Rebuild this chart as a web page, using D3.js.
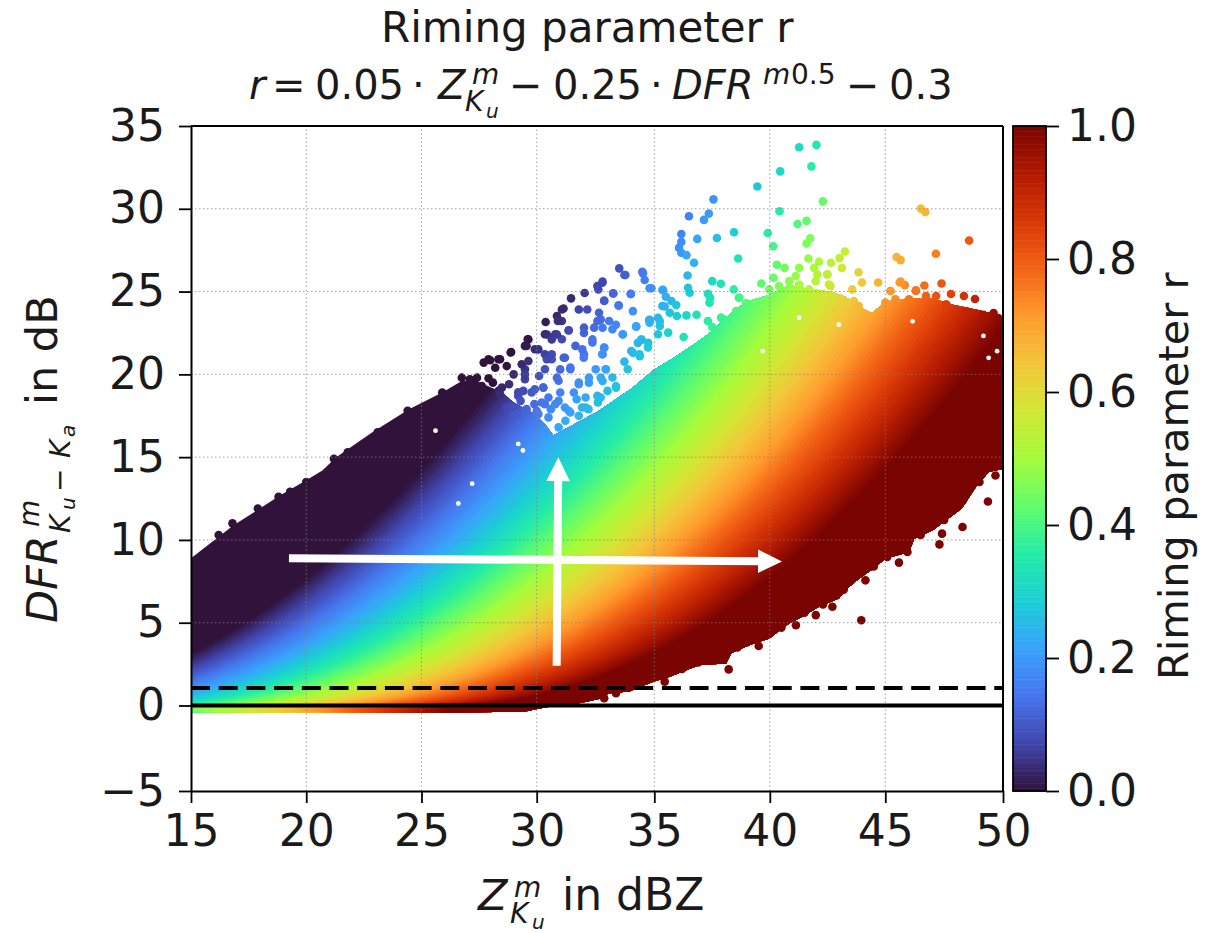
<!DOCTYPE html>
<html>
<head>
<meta charset="utf-8">
<script src="https://cdn.jsdelivr.net/npm/d3@7"></script>
<style>
  html, body { margin: 0; background: #fff; }
  text { font-family: "DejaVu Sans", sans-serif; fill: #1a1a1a; }
</style>
</head>
<body>
<div id="chart"></div>
<script>
// tick labels
const xTicks = [15, 20, 25, 30, 35, 40, 45, 50];
const yTicks = [-5, 0, 5, 10, 15, 20, 25, 30, 35];
const rTicks = [0, 0.2, 0.4, 0.6, 0.8, 1];

// colormap stops (turbo)
const turboStops = ['#30123b', '#4145ab', '#4675ed', '#39a2fc', '#1bcfd4', '#24eca6', '#61fc6c', '#a4fc3b',
  '#d1e834', '#f3c63a', '#fe9b2d', '#f36315', '#d93806', '#b11901', '#7a0402'];

// outline of the dense part of the cloud, [Z, DFR]
const upperEdge = [[15, 8.9], [16.83, 10.87], [18.86, 12.68], [20, 13.6], [20.7, 14.2], [21.3, 15], [22.87, 16.5],
  [24.46, 17.9], [25.9, 18.9], [26.75, 19.6], [27.4, 19.6], [28.5, 18.9], [29, 18.3], [29.9, 17.6], [30.4, 16.9],
  [30.71, 16.3], [32.65, 17.8], [34.09, 19.2], [35, 20.3], [35.95, 21.1], [36.8, 21.9], [37.5, 22.6], [38.4, 23.8],
  [39, 24.4], [39.98, 24.8], [40.84, 25.4], [41.56, 25.2], [42.56, 25], [43.14, 24.8], [44, 24], [44.43, 23.7],
  [45, 24.4], [46, 24.6], [47, 24.6], [47.88, 24.2], [48.89, 23.9], [49.46, 23.7], [50, 23.2]];
const lowerEdge = [[50, 14.29], [49.4, 14.1], [48.89, 13.29], [48.24, 11.88], [47.02, 10.58], [46.23, 10.07],
  [46.01, 9.27], [45, 8.87], [44.5, 8.27], [43.86, 7.66], [43.43, 7.16], [42.99, 6.46], [42.13, 5.96], [41.41, 5.36],
  [40.84, 4.95], [39.98, 4.05], [39.12, 3.65], [38.33, 3.15], [38.11, 2.54], [36.96, 2.44], [35.67, 1.74],
  [34.95, 1.44], [33.94, 0.84], [33.08, 0.74], [32.65, 0.4], [31.5, 0.05], [30.4, -0.1], [29.5, -0.35], [26, -0.42],
  [20.3, -0.4], [15, -0.4]];

// single points outside the dense part, [Z, DFR]
const loosePoints = [[41.27, 33.72], [42.02, 33.86], [41.8, 32.56], [40.45, 32.26], [39.46, 31.35], [42.3, 30.45],
  [37.56, 30.57], [40.42, 29.85], [46.51, 30.01], [46.7, 29.81], [36.5, 29.55], [37.36, 29.71], [37.15, 29.33],
  [41.2, 29.08], [41.59, 29.27], [48.56, 28.08], [38.45, 28.58], [37.71, 28.24], [36.86, 28.18], [36.17, 28.48],
  [36.17, 28], [36.07, 27.64], [36.17, 27.34], [36.39, 27.2], [36.72, 26.74], [39.91, 28.54], [40.15, 27.74],
  [41.75, 28.22], [41.59, 27.9], [38.63, 27], [47.15, 27.28], [45.48, 27.08], [45.65, 26.9], [43.25, 27.42],
  [43.02, 27.02], [41.67, 27], [40.31, 26.62], [40.64, 26.43], [41.27, 26.43], [42.13, 26.8], [42.65, 26.74],
  [43.12, 26.43], [41.92, 26.43], [42.06, 26.03], [42.49, 26.03], [43.84, 26.17], [33.51, 26.4], [33.77, 26],
  [34.49, 26.2], [34.59, 25.7], [34.8, 25.2], [32.79, 25.53], [33.25, 24.89], [34, 24.85], [32.87, 24.43],
  [33.48, 24.17], [36.44, 25.97], [36.46, 25.23], [36.53, 24.93], [37.51, 25.63], [37.88, 25.47], [38.44, 25.13],
  [39.63, 25.49], [40.16, 25.83], [42.56, 25.43], [43.99, 25.55], [43.57, 25.13], [44.69, 25.55], [45.61, 25.55],
  [45.83, 25.39], [46.66, 25.37], [47.39, 25.49], [46.3, 25.03], [47.79, 24.85], [48.34, 24.73], [48.81, 24.55],
  [45.22, 25.03], [37.32, 24.87], [37.42, 24.63], [37.39, 24.33], [38.66, 24.63], [38.97, 24.29], [35.35, 25.09],
  [35.5, 24.69], [35.74, 24.43], [35.95, 24.19], [35.35, 24.13], [34.09, 23.82], [35.67, 23.72], [35.98, 23.52],
  [36.39, 23.56], [36.83, 23.6], [34.78, 23.28], [35.16, 23.42], [34.23, 22.88], [35.24, 22.92], [35.6, 22.52],
  [35.16, 22.42], [34.8, 23.12], [37.32, 23.22], [37.51, 22.86], [37.97, 23.32], [36.27, 22.26], [34.45, 22.1],
  [34.73, 21.62], [34.3, 21.9], [34.02, 21.41], [34.37, 21.21], [33.73, 20.77], [33.87, 20.31], [33.08, 23.22],
  [32.72, 23.32], [33.22, 22.72], [33.66, 22.42], [32.87, 21.62], [32.79, 21.21], [32.94, 20.31], [33.22, 19.81],
  [33.37, 19.2], [32.72, 19.81], [32.72, 18.6], [32.58, 25.33], [32.04, 24.91], [31.46, 24.59], [31.79, 23.92],
  [32.15, 23.92], [31.07, 23.92], [30.86, 23.52], [30.38, 23.16], [31.07, 23.22], [32.01, 22.82], [32.44, 22.82],
  [31.36, 22.66], [30.35, 22.42], [30.79, 22.42], [31.07, 22.12], [29.61, 22.12], [29.49, 21.72], [29.92, 21.52],
  [32.37, 21.92], [31.65, 21.72], [32.01, 21.21], [31.15, 21], [30.35, 21.21], [30.64, 20.91], [28.87, 21.32],
  [28.34, 20.91], [27.91, 20.91], [27.7, 20.71], [30.35, 20.31], [31.43, 20.31], [30.93, 19.61], [29.49, 20.31],
  [29.49, 19.71], [31.79, 19.41], [30.28, 19.21], [29.2, 18.91], [29.78, 18.91], [28.34, 19], [28.7, 18],
  [29.49, 17.8], [30.93, 18.4], [31.43, 17.7], [32.08, 18.6], [32.22, 19.5], [30.35, 18.2], [29.06, 17.6], [30, 17.8],
  [31.93, 18], [49.68, 13.89], [49.36, 12.32], [48.28, 10.78], [47.41, 10.38], [47.3, 9.73], [43.96, 5.15],
  [45.58, 8.63], [45.08, 8.97], [45.94, 9.27], [44.14, 7.56], [42.71, 5.96], [41.99, 5.46], [41.13, 4.85],
  [39.52, 3.59], [38.22, 2.18], [35.45, 1.44], [33.37, 0.74], [32.87, 0.44]];

// second pass over the busy parts of the upper edge
const busyPoints = [[32.8, 25.6], [32.62, 25.13], [33.26, 24.88], [34, 24.86], [32.87, 24.46], [33.49, 24.14],
  [30.9, 23.22], [31.14, 23.98], [32.65, 23.72], [32.58, 23.22], [32.01, 22.5], [32.8, 22.82], [33.37, 23],
  [33.66, 22.41], [32.37, 22.11], [31.36, 22.65], [30.86, 22.41], [30.43, 22.41], [30.64, 22.11], [29.64, 22.11],
  [29.56, 21.71], [30.07, 21.51], [32.87, 21.61], [32.8, 21.21], [31.94, 21.51], [32, 21], [31.2, 21],
  [30.64, 21.21], [30.43, 20.91], [28.89, 21.35], [28.41, 20.91], [27.98, 20.85], [28.2, 20.4], [28.7, 20.5],
  [29.35, 20.61], [29.64, 20.81], [29.49, 20], [30.86, 19.8], [31.43, 20.41], [32.51, 20.31], [32.94, 20.31],
  [32.22, 19.8], [32.8, 19.6], [31.79, 19.5], [33.37, 19.3], [32.58, 18.7], [33.01, 19], [31.58, 18.9], [32.08, 18],
  [31.36, 17.8], [31.79, 17.5], [27.41, 19.8], [27.12, 19.6], [27.62, 19.3], [27.91, 19.76], [29.2, 18.7],
  [29.42, 19], [29.92, 19.1], [30.28, 19.2], [28.49, 19.2], [28.41, 18.8], [28.92, 18], [29.56, 17.9], [30.21, 18.3],
  [30.79, 18.2], [30.93, 16.8], [31.22, 17.2], [30.5, 17.4], [30.07, 17.6], [34.23, 22.9], [34.81, 23.3],
  [35.24, 23.2], [34.45, 22.1], [34.74, 21.9], [34.09, 21.3], [34.38, 21.1], [35.38, 25.1], [34.88, 25.2],
  [34.52, 26.1], [33.73, 26], [35.45, 24.1], [39.98, 25.13], [40.4, 25.33], [40.84, 25.63], [41.27, 25.43],
  [41.7, 25.13], [42.06, 24.73], [42.56, 24.43], [43.06, 24.53], [43.64, 24.43], [43.85, 24.13], [42.85, 23.83],
  [41.99, 25.63], [42.49, 26.04], [42.63, 25.33], [41.12, 25.94], [45.22, 25.03], [45.65, 25.6], [46.3, 25.07],
  [46.73, 24.73], [47.16, 24.73], [45, 24.33], [45.43, 24.53], [46.01, 24.53], [47.59, 24.23], [48.45, 23.83],
  [49.6, 23.7], [49.8, 23.4], [49.17, 23.6], [38.68, 24.63], [38.97, 24.29], [39.4, 24.33], [38.54, 23.83],
  [38.1, 23.3], [37.89, 23.43], [29.9, 18.2], [30.5, 18.6], [31, 18.9], [31.7, 18.5], [31.2, 18], [30.6, 17.9],
  [29.3, 18.4], [32.2, 17.9], [32.6, 18.3], [28.1, 19.5], [28.8, 19.4], [30.1, 19.9], [31, 20.3], [29, 20]];

// points that make the rough rim of the dense part
const rimPoints = [[16.2, 10.3], [16.8, 11], [17.9, 11.9], [18.8, 12.6], [19.3, 12.9], [20, 13.5], [21.2, 14.9],
  [21.8, 15.3], [22.5, 15.8], [23.1, 16.5], [23.9, 16.9], [24.4, 17.8], [25.2, 17.9], [25.9, 18.9], [26.4, 18.7],
  [26.75, 19.8], [27.1, 19.7], [36.9, 2.6], [36.2, 2.2], [38.6, 3.5], [39, 3.8], [40.5, 4.7], [41.5, 5.6],
  [42.3, 6.1], [43.2, 7], [44.5, 8.4], [46.5, 10.3], [47.5, 11.2], [48.3, 12.4], [49, 13.5]];

// small white gaps inside the cloud
const gaps = [[46.16, 23.2], [49.17, 22.32], [41.27, 23.42], [39.69, 21.4], [42.99, 23], [49.75, 21.4], [49.39, 21],
  [29.2, 15.8], [29.4, 15.4], [25.61, 16.6], [26.6, 12.2], [27.2, 13.4]];

// reference lines and the two arrows
const solidLine = 0;
const dashedLine = 1;
const arrows = [{ from: [19.25, 8.9], to: [40.53, 8.7] }, { from: [30.85, 2.4], to: [30.92, 15] }];

const width = 1220, height = 933;
// the picture's axes are not quite even, hence the extra knots
const x = d3.scaleLinear().domain([15, 30, 35, 45, 50]).range([191, 536.7, 654.3, 885.3, 1003]);
const y = d3.scaleLinear().domain([-5, 0, 35]).range([791, 705.5, 126]);
const yBar = d3.scaleLinear().domain([0, 1]).range([791, 126]);

const turbo = d3.scaleLinear()
  .domain(turboStops.map((c, i) => i / (turboStops.length - 1)))
  .range(turboStops)
  .clamp(true);

// colour definition printed in the title
const riming = (z, dfr) => 0.05 * z - 0.25 * Math.sqrt(Math.max(dfr, 0)) - 0.3;

const svg = d3.select('#chart').append('svg')
  .attr('width', width)
  .attr('height', height)
  .style('display', 'block');

svg.append('defs').append('clipPath').attr('id', 'cloud')
  .append('path')
  .attr('d', d3.line().x(d => x(d[0])).y(d => y(d[1]))(upperEdge.concat(lowerEdge)) + 'Z');
svg.select('defs').append('clipPath').attr('id', 'plot')
  .append('rect')
  .attr('x', x(15)).attr('y', y(35))
  .attr('width', x(50) - x(15)).attr('height', y(-5) - y(35));

// cloud: painted from r=0 upward, each level covering everything below its iso line
const cloud = svg.append('g').attr('clip-path', 'url(#cloud)');
cloud.append('rect')
  .attr('x', x(15)).attr('y', y(35))
  .attr('width', x(50) - x(15)).attr('height', y(-5) - y(35))
  .attr('fill', turbo(0));

const levels = d3.range(1, 101).map(d => d / 100);
const zGrid = d3.range(15, 50.01, 0.25);
const band = d3.area().x(d => x(d)).y0(y(-2));
cloud.selectAll('path')
  .data(levels)
  .join('path')
  .attr('fill', d => turbo(d))
  .attr('d', l => {
    const z0 = (0.3 + l) / 0.05;
    const zs = [Math.max(z0, 15)].concat(zGrid.filter(z => z > z0));
    return band.y1(z => y(Math.pow(Math.max(0.05 * z - 0.3 - l, 0) / 0.25, 2)))(zs);
  });

const plot = svg.append('g').attr('clip-path', 'url(#plot)');

plot.append('g').selectAll('circle')
  .data(loosePoints.concat(busyPoints, rimPoints))
  .join('circle')
  .attr('cx', d => x(d[0]))
  .attr('cy', d => y(d[1]))
  .attr('r', 4.3)
  .attr('fill', d => turbo(riming(d[0], d[1])));

plot.append('g').selectAll('circle')
  .data(gaps)
  .join('circle')
  .attr('cx', d => x(d[0]))
  .attr('cy', d => y(d[1]))
  .attr('r', 2.4)
  .attr('fill', '#fff');

// grid sits on top of the points
const grid = svg.append('g')
  .attr('stroke', '#808080')
  .attr('stroke-opacity', 0.75)
  .attr('stroke-width', 1)
  .attr('stroke-dasharray', '1.5 2.5');
grid.selectAll('.gx').data(xTicks.slice(1, -1)).join('line').attr('class', 'gx')
  .attr('x1', d => x(d)).attr('x2', d => x(d)).attr('y1', y(-5)).attr('y2', y(35));
grid.selectAll('.gy').data(yTicks.slice(1, -1)).join('line').attr('class', 'gy')
  .attr('x1', x(15)).attr('x2', x(50)).attr('y1', d => y(d)).attr('y2', d => y(d));

svg.append('line')
  .attr('x1', x(15)).attr('x2', x(50)).attr('y1', y(solidLine)).attr('y2', y(solidLine))
  .attr('stroke', '#000').attr('stroke-width', 4);
svg.append('line')
  .attr('x1', x(15)).attr('x2', x(50)).attr('y1', y(dashedLine) - 1).attr('y2', y(dashedLine) - 1)
  .attr('stroke', '#000').attr('stroke-width', 4).attr('stroke-dasharray', '19 8.7');

// white arrows
arrows.forEach(a => {
  const x0 = x(a.from[0]), y0 = y(a.from[1]), x1 = x(a.to[0]), y1 = y(a.to[1]);
  const len = Math.hypot(x1 - x0, y1 - y0);
  const deg = Math.atan2(y1 - y0, x1 - x0) * 180 / Math.PI;
  const g = svg.append('g').attr('transform', `translate(${x0},${y0}) rotate(${deg})`).attr('fill', '#fff');
  g.append('rect').attr('x', 0).attr('y', -4).attr('width', len - 22).attr('height', 8);
  g.append('path').attr('d', `M${len - 24},-11.7L${len},0L${len - 24},11.7Z`);
});

// axes
const fontSize = 44;
function styleAxis(g) {
  g.selectAll('.domain').attr('stroke', '#000').attr('stroke-width', 2);
  g.selectAll('.tick line').attr('stroke', '#000').attr('stroke-width', 1.8);
  g.selectAll('.tick text').style('font-size', fontSize + 'px').attr('fill', '#1a1a1a');
}
const fmtMinus = d => String(d).replace('-', '\u2212');
svg.append('g').attr('transform', `translate(0,${y(-5)})`)
  .call(d3.axisBottom(x).tickValues(xTicks).tickSize(12).tickPadding(12).tickFormat(fmtMinus).tickSizeOuter(0))
  .call(styleAxis);
svg.append('g').attr('transform', `translate(${x(15)},0)`)
  .call(d3.axisLeft(y).tickValues(yTicks).tickSize(12).tickPadding(14).tickFormat(fmtMinus).tickSizeOuter(0))
  .call(styleAxis);
svg.append('line').attr('x1', x(15)).attr('x2', x(50)).attr('y1', y(35)).attr('y2', y(35))
  .attr('stroke', '#000').attr('stroke-width', 2);
svg.append('line').attr('x1', x(50)).attr('x2', x(50)).attr('y1', y(35)).attr('y2', y(-5))
  .attr('stroke', '#000').attr('stroke-width', 2);

// colorbar
const barX = 1013, barW = 33;
const barSteps = d3.range(256);
svg.append('g').selectAll('rect')
  .data(barSteps)
  .join('rect')
  .attr('x', barX)
  .attr('width', barW)
  .attr('y', d => yBar((d + 1) / 256))
  .attr('height', d => yBar(d / 256) - yBar((d + 1) / 256) + 0.5)
  .attr('fill', d => turbo((d + 0.5) / 256));
svg.append('g').attr('transform', `translate(${barX + barW},0)`)
  .call(d3.axisRight(yBar).tickValues(rTicks).tickSize(13).tickPadding(8).tickFormat(d3.format('.1f')).tickSizeOuter(0))
  .call(styleAxis)
  .call(g => g.select('.domain').remove());
svg.append('rect')
  .attr('x', barX).attr('y', y(35)).attr('width', barW).attr('height', y(-5) - y(35))
  .attr('fill', 'none').attr('stroke', '#000').attr('stroke-width', 1.8);

// math labels: one text element, each piece placed by hand like mathtext does
// piece = [x, y, string, size, italic]
function mathText(parent, pieces) {
  parent.append('text')
    .selectAll('tspan')
    .data(pieces)
    .join('tspan')
    .attr('x', d => d[0])
    .attr('y', d => d[1])
    .style('font-size', d => d[3] + 'px')
    .style('font-style', d => d[4] ? 'italic' : 'normal')
    .text(d => d[2]);
}

mathText(svg, [[381, 42, 'Riming parameter r', 42]]);
mathText(svg, [
  [249, 99, 'r', 40, true], [272, 99, '=', 40], [315, 99, '0.05', 40], [412, 99, '\u00b7', 40],
  [438, 99, 'Z', 40, true], [472, 84, 'm', 28, true], [465, 111, 'K', 28, true], [486, 118, 'u', 20, true],
  [509, 99, '\u2212', 40], [553, 99, '0.25', 40], [650, 99, '\u00b7', 40], [672, 99, 'DFR', 40, true],
  [763, 84, 'm', 28, true], [791, 84, '0.5', 28], [846, 99, '\u2212', 40], [889, 99, '0.3', 40]
]);
mathText(svg, [
  [478, 910, 'Z', 43, true], [514, 897, 'm', 28, true], [510, 923, 'K', 28, true], [532, 929, 'u', 20, true],
  [562, 910, 'in dBZ', 44]
]);
mathText(svg.append('g').attr('transform', 'translate(57,623) rotate(-90)'), [
  [0, 0, 'DFR', 43, true], [96, -18, 'm', 28, true], [90, 13, 'K', 28, true], [113, 18, 'u', 20, true],
  [131, 12, '\u2212', 28], [165, 13, 'K', 28, true], [186, 18, 'a', 20, true], [218, 0, 'in dB', 43]
]);
mathText(svg.append('g').attr('transform', 'translate(1188,680) rotate(-90)'), [[0, 0, 'Riming parameter r', 41.5]]);
</script>
</body>
</html>
